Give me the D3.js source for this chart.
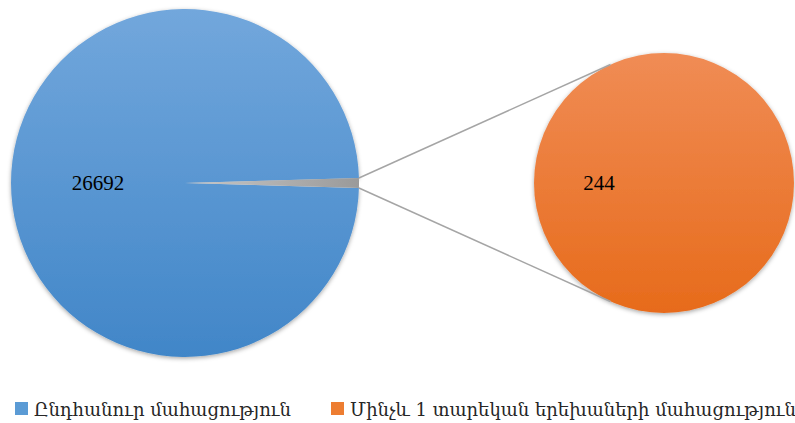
<!DOCTYPE html>
<html>
<head>
<meta charset="utf-8">
<script src="https://cdn.jsdelivr.net/npm/d3@7"></script>
<style>
  body { margin: 0; background: #fff; }
  svg { display: block; }
</style>
</head>
<body>
<div id="chart"></div>
<script>
var width = 795,
    height = 423;

// data
var categories = ["Ընդհանուր մահացություն", "Մինչև 1 տարեկան երեխաների մահացություն"];
var mainValues = [26692, 244];   // second value is the split-off part
var secondValues = [244];

var svg = d3.select("#chart").append("svg")
    .attr("width", width)
    .attr("height", height);

var defs = svg.append("defs");

function vGrad(id, top, bottom) {
  var g = defs.append("linearGradient").attr("id", id)
      .attr("x1", 0).attr("y1", 0).attr("x2", 0).attr("y2", 1);
  g.append("stop").attr("offset", "0%").attr("stop-color", top);
  g.append("stop").attr("offset", "100%").attr("stop-color", bottom);
}
vGrad("blueGrad", "#72a7dc", "#4186c8");
vGrad("orangeGrad", "#f08c55", "#e76b1b");

var gg = defs.append("linearGradient").attr("id", "grayGrad")
    .attr("x1", 0).attr("y1", 0).attr("x2", 1).attr("y2", 0);
gg.append("stop").attr("offset", "0%").attr("stop-color", "#c8c8c8");
gg.append("stop").attr("offset", "100%").attr("stop-color", "#9a9a9a");

var shadow = defs.append("filter").attr("id", "shadow")
    .attr("x", "-10%").attr("y", "-10%").attr("width", "120%").attr("height", "120%");
shadow.append("feDropShadow")
    .attr("dx", 0).attr("dy", 1.5)
    .attr("stdDeviation", 2)
    .attr("flood-color", "#000").attr("flood-opacity", 0.35);

/* main pie */
var c1 = {x: 185, y: 183, r: 174};
var c2 = {x: 664, y: 183, r: 130};

var total = d3.sum(mainValues);
var half = Math.PI * mainValues[1] / total;  // half of split slice angle

var pie1 = d3.pie().sort(null)
    .startAngle(Math.PI / 2 + half)
    .endAngle(Math.PI / 2 + half + 2 * Math.PI);
var arc1 = d3.arc().innerRadius(0).outerRadius(c1.r);
var arcs1 = pie1(mainValues);

var g1 = svg.append("g").attr("transform", "translate(" + c1.x + "," + c1.y + ")");
g1.selectAll("path.slice")
    .data(arcs1)
    .enter().append("path")
    .attr("class", "slice")
    .attr("d", arc1)
    .attr("fill", function(d, i){ return i == 0 ? "url(#blueGrad)" : "url(#grayGrad)"; })
    .attr("filter", function(d, i){ return i == 0 ? "url(#shadow)" : null; });

/* second pie */
var pie2 = d3.pie().sort(null)
    .startAngle(Math.PI / 2)
    .endAngle(Math.PI / 2 + 2 * Math.PI);
var arc2 = d3.arc().innerRadius(0).outerRadius(c2.r);
var arcs2 = pie2(secondValues);

var g2 = svg.append("g").attr("transform", "translate(" + c2.x + "," + c2.y + ")");
g2.selectAll("path")
    .data(arcs2)
    .enter().append("path")
    .attr("d", arc2)
    .attr("fill", "url(#orangeGrad)")
    .attr("filter", "url(#shadow)");

/* connector lines: from the edges of the split slice, tangent to the second pie */
var split = arcs1[1];
[split.startAngle, split.endAngle].forEach(function(a, k) {
  var px = c1.x + c1.r * Math.sin(a),
      py = c1.y - c1.r * Math.cos(a);
  var dx = px - c2.x, dy = py - c2.y;
  var d = Math.sqrt(dx * dx + dy * dy);
  var base = Math.atan2(dy, dx);
  var off = Math.acos(c2.r / d) * (k == 0 ? 1 : -1);
  var tx = c2.x + c2.r * Math.cos(base + off),
      ty = c2.y + c2.r * Math.sin(base + off);
  svg.append("line")
      .attr("x1", px).attr("y1", py)
      .attr("x2", tx).attr("y2", ty)
      .attr("stroke", "#a5a5a5")
      .attr("stroke-width", 1.5);
});

/* labels */
g1.append("text")
    .attr("transform", "translate(" + arc1.centroid(arcs1[0]) + ")")
    .attr("text-anchor", "middle")
    .attr("dy", "0.35em")
    .style("font-family", "'Liberation Serif', serif")
    .style("font-size", "21px")
    .text(mainValues[0]);

g2.append("text")
    .attr("transform", "translate(" + arc2.centroid(arcs2[0]) + ")")
    .attr("text-anchor", "middle")
    .attr("dy", "0.35em")
    .style("font-family", "'Liberation Serif', serif")
    .style("font-size", "21px")
    .text(secondValues[0]);

/* legend */
var legendX = [15, 331];
var legendColors = ["#5b9bd5", "#ed7d31"];
var legend = svg.selectAll("g.legend")
    .data(categories)
    .enter().append("g")
    .attr("class", "legend")
    .attr("transform", function(d, i){ return "translate(" + legendX[i] + ",402)"; });

legend.append("rect")
    .attr("width", 13).attr("height", 13)
    .attr("fill", function(d, i){ return legendColors[i]; });

legend.append("text")
    .attr("x", 19)
    .attr("y", 14)
    .style("font-family", "'DejaVu Serif', serif")
    .style("font-size", "18px")
    .attr("fill", "#262626")
    .text(function(d){ return d; });
</script>
</body>
</html>
